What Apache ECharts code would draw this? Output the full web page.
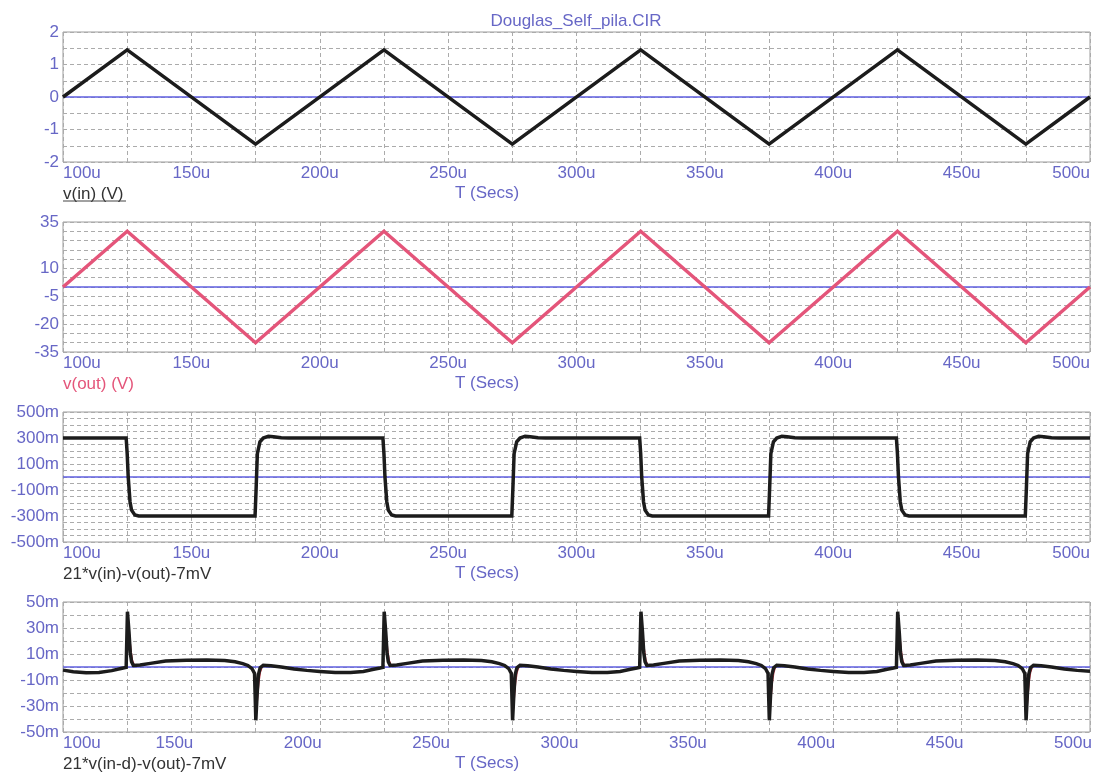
<!DOCTYPE html>
<html>
<head>
<meta charset="utf-8">
<title>Douglas_Self_pila.CIR</title>
<script src="https://cdn.jsdelivr.net/npm/echarts@6/dist/echarts.min.js"></script>
<style>
  html, body { margin: 0; padding: 0; background: #ffffff; }
  #chart { width: 1101px; height: 772px; }
</style>
</head>
<body>
<div id="chart"></div>
<script>
// ---- text ----
const fileTitle = 'Douglas_Self_pila.CIR';
const timeAxisName = 'T (Secs)';
const traceNames = ['v(in) (V)', 'v(out) (V)', '21*v(in)-v(out)-7mV', '21*v(in-d)-v(out)-7mV'];

// ---- tick labels ----
const TIME_MIN = 100, TIME_MAX = 500;                               // microseconds
const timeTicks = [100, 150, 200, 250, 300, 350, 400, 450, 500];
const vinTicks  = [2, 1, 0, -1, -2];
const voutTicks = [35, 10, -5, -20, -35];
const diffTicks = [500, 300, 100, -100, -300, -500];               // millivolts
const errTicks  = [50, 30, 10, -10, -30, -50];                     // millivolts

// ---- traces: [time (us), value] ----
const vinWave = [
  [100, 0], [125, 1.45], [175, -1.45], [225, 1.45], [275, -1.45],
  [325, 1.45], [375, -1.45], [425, 1.45], [475, -1.45], [500, 0]
];

const voutWave = [
  [100, 0], [125, 30], [175, -30], [225, 30], [275, -30],
  [325, 30], [375, -30], [425, 30], [475, -30], [500, 0]
];

// 21*v(in)-v(out)-7mV, in mV
const diffWave = [
  [100, 300], [124.6, 300], [125.0, 180], [125.4, 0], [126.1, -190], [126.7, -255], [128.0, -292], [129.5, -300],
  [174.8, -300], [175.2, -100], [175.7, 180], [176.7, 270], [178.0, 300], [180.0, 314], [182.0, 310], [185.0, 302], [188.0, 300],
  [224.6, 300], [225.0, 180], [225.4, 0], [226.1, -190], [226.7, -255], [228.0, -292], [229.5, -300],
  [274.8, -300], [275.2, -100], [275.7, 180], [276.7, 270], [278.0, 300], [280.0, 314], [282.0, 310], [285.0, 302], [288.0, 300],
  [324.6, 300], [325.0, 180], [325.4, 0], [326.1, -190], [326.7, -255], [328.0, -292], [329.5, -300],
  [374.8, -300], [375.2, -100], [375.7, 180], [376.7, 270], [378.0, 300], [380.0, 314], [382.0, 310], [385.0, 302], [388.0, 300],
  [424.6, 300], [425.0, 180], [425.4, 0], [426.1, -190], [426.7, -255], [428.0, -292], [429.5, -300],
  [474.8, -300], [475.2, -100], [475.7, 180], [476.7, 270], [478.0, 300], [480.0, 314], [482.0, 310], [485.0, 302], [488.0, 300],
  [500, 300]
];

// 21*v(in-d)-v(out)-7mV, in mV
const errWave = [
  [100, -2.4], [104, -3.6], [109, -4.4], [114, -4.2], [119, -2.8], [123, -1.0], [124.6, -0.3],
  [125.1, 42.5], [125.7, 27], [126.2, 11], [126.7, 4], [127.4, 1.2],
  [130, 1.6], [134, 2.8], [140, 4.6], [148, 5.2], [156, 5.3], [163, 5.0], [167, 4.0], [170, 2.6], [172, 1.2], [173.6, -1.2], [174.6, -5],
  [175.1, -41], [175.6, -21], [176.1, -6], [176.8, -0.5], [178, 1.3], [181, 1.0], [185, 0], [190, -1.5], [195, -2.6], [200, -3.4],
  [206, -4.2], [212, -4.2], [217, -3.4], [221, -1.8], [223.5, -0.8], [224.6, -0.3],
  [225.1, 42.5], [225.7, 27], [226.2, 11], [226.7, 4], [227.4, 1.2],
  [230, 1.6], [234, 2.8], [240, 4.6], [248, 5.2], [256, 5.3], [263, 5.0], [267, 4.0], [270, 2.6], [272, 1.2], [273.6, -1.2], [274.6, -5],
  [275.1, -41], [275.6, -21], [276.1, -6], [276.8, -0.5], [278, 1.3], [281, 1.0], [285, 0], [290, -1.5], [295, -2.6], [300, -3.4],
  [306, -4.2], [312, -4.2], [317, -3.4], [321, -1.8], [323.5, -0.8], [324.6, -0.3],
  [325.1, 42.5], [325.7, 27], [326.2, 11], [326.7, 4], [327.4, 1.2],
  [330, 1.6], [334, 2.8], [340, 4.6], [348, 5.2], [356, 5.3], [363, 5.0], [367, 4.0], [370, 2.6], [372, 1.2], [373.6, -1.2], [374.6, -5],
  [375.1, -41], [375.6, -21], [376.1, -6], [376.8, -0.5], [378, 1.3], [381, 1.0], [385, 0], [390, -1.5], [395, -2.6], [400, -3.4],
  [406, -4.2], [412, -4.2], [417, -3.4], [421, -1.8], [423.5, -0.8], [424.6, -0.3],
  [425.1, 42.5], [425.7, 27], [426.2, 11], [426.7, 4], [427.4, 1.2],
  [430, 1.6], [434, 2.8], [440, 4.6], [448, 5.2], [456, 5.3], [463, 5.0], [467, 4.0], [470, 2.6], [472, 1.2], [473.6, -1.2], [474.6, -5],
  [475.1, -41], [475.6, -21], [476.1, -6], [476.8, -0.5], [478, 1.3], [481, 1.0], [485, 0], [490, -1.5], [495, -2.6], [500, -3.2]
];

// slower companion trace visible beside each spike (gaps between bursts)
const errShadow = [
  [125.3, 38], [125.9, 25], [126.5, 13], [127.1, 5], [127.8, 1.5], [127.9, null],
  [175.3, -36], [175.8, -24], [176.3, -12], [176.9, -4], [177.5, -0.5], [177.6, null],
  [225.3, 38], [225.9, 25], [226.5, 13], [227.1, 5], [227.8, 1.5], [227.9, null],
  [275.3, -36], [275.8, -24], [276.3, -12], [276.9, -4], [277.5, -0.5], [277.6, null],
  [325.3, 38], [325.9, 25], [326.5, 13], [327.1, 5], [327.8, 1.5], [327.9, null],
  [375.3, -36], [375.8, -24], [376.3, -12], [376.9, -4], [377.5, -0.5], [377.6, null],
  [425.3, 38], [425.9, 25], [426.5, 13], [427.1, 5], [427.8, 1.5], [427.9, null],
  [475.3, -36], [475.8, -24], [476.3, -12], [476.9, -4], [477.5, -0.5]
];

// ---- styling ----
const FONT = "'Liberation Sans', Arial, sans-serif";
const labelBlue = '#6767c6';
const zeroBlue = '#5f5fe0';
const gridGray = '#ababab';
const frameGray = '#9c9c9c';
const inkBlack = '#1c1c1c';
const pink = '#e4557a';

// the bottom panel's time labels sit a little left of their grid lines
const panels = [
  { top: 32,  min: -2,   max: 2,   step: 0.5, ticks: vinTicks,  unit: '',  data: vinWave,  color: inkBlack, nameColor: '#333333', labelShift: 0 },
  { top: 222, min: -35,  max: 35,  step: 5,   ticks: voutTicks, unit: '',  data: voutWave, color: pink,     nameColor: pink,      labelShift: 0 },
  { top: 412, min: -500, max: 500, step: 50,  ticks: diffTicks, unit: 'm', data: diffWave, color: inkBlack, nameColor: '#333333', labelShift: 0 },
  { top: 602, min: -50,  max: 50,  step: 10,  ticks: errTicks,  unit: 'm', data: errWave,  color: inkBlack, nameColor: '#333333', labelShift: 17 }
];
const PLOT_LEFT = 63, PLOT_WIDTH = 1027, PLOT_HEIGHT = 130;
const dash = [4, 3];

const grid = [], xAxis = [], yAxis = [], series = [], graphic = [];

panels.forEach((p, i) => {
  grid.push({
    left: PLOT_LEFT, top: p.top, width: PLOT_WIDTH, height: PLOT_HEIGHT,
    show: true, borderColor: frameGray, borderWidth: 1, backgroundColor: 'transparent',
    containLabel: false, outerBoundsMode: 'none'
  });
  xAxis.push({
    type: 'value', gridIndex: i, min: TIME_MIN, max: TIME_MAX, interval: 25,
    axisLine: { show: false, onZero: false }, axisTick: { show: false },
    splitLine: { show: true, lineStyle: { color: gridGray, width: 1, type: dash } },
    axisLabel: {
      show: true, margin: 3, color: labelBlue, fontFamily: FONT, fontSize: 17,
      showMinLabel: true, showMaxLabel: true,
      alignMinLabel: 'left', alignMaxLabel: p.labelShift ? 'center' : 'right',
      padding: [0, p.labelShift * 2, 0, 0],
      formatter: v => (timeTicks.indexOf(v) >= 0 ? v + 'u' : '')
    }
  });
  yAxis.push({
    type: 'value', gridIndex: i, min: p.min, max: p.max, interval: p.step,
    axisLine: { show: false, onZero: false }, axisTick: { show: false },
    splitLine: { show: true, lineStyle: { color: gridGray, width: 1, type: dash } },
    axisLabel: {
      show: true, margin: 4, color: labelBlue, fontFamily: FONT, fontSize: 17,
      showMinLabel: true, showMaxLabel: true,
      formatter: v => (p.ticks.indexOf(v) >= 0 ? v + p.unit : '')
    }
  });
  // zero reference line across the full time range, underneath the traces
  series.push({
    type: 'line', xAxisIndex: i, yAxisIndex: i, z: 1, silent: true,
    data: [[TIME_MIN, 0], [TIME_MAX, 0]],
    showSymbol: false, animation: false,
    lineStyle: { color: zeroBlue, width: 1.3, type: 'solid' }
  });
  if (i === 3) {
    series.push({
      type: 'line', xAxisIndex: i, yAxisIndex: i, data: errShadow, z: 2,
      showSymbol: false, connectNulls: false, animation: false, silent: true,
      lineStyle: { color: '#b8303e', width: 1.3 }
    });
  }
  series.push({
    type: 'line', xAxisIndex: i, yAxisIndex: i, data: p.data, z: 3,
    showSymbol: false, animation: false, silent: true,
    lineStyle: { color: p.color, width: 3.5, join: 'miter' }
  });

  const bottom = p.top + PLOT_HEIGHT;
  graphic.push({
    type: 'text', silent: true,
    style: { x: 487, y: bottom + 31, text: timeAxisName, fill: labelBlue, font: '17px ' + FONT, align: 'center', verticalAlign: 'middle' }
  });
  graphic.push({
    type: 'text', silent: true,
    style: { x: PLOT_LEFT, y: bottom + 32, text: traceNames[i], fill: p.nameColor, font: '17px ' + FONT, align: 'left', verticalAlign: 'middle' }
  });
});

// underline beneath the first trace name
graphic.push({
  type: 'line', silent: true,
  shape: { x1: PLOT_LEFT, y1: 201, x2: 126, y2: 201 },
  style: { stroke: '#444444', lineWidth: 1 }
});
graphic.push({
  type: 'text', silent: true,
  style: { x: 576, y: 21, text: fileTitle, fill: labelBlue, font: '17px ' + FONT, align: 'center', verticalAlign: 'middle' }
});

const chart = echarts.init(document.getElementById('chart'), null, { renderer: 'canvas' });
chart.setOption({
  animation: false,
  backgroundColor: '#ffffff',
  grid, xAxis, yAxis, series, graphic
});
</script>
</body>
</html>
